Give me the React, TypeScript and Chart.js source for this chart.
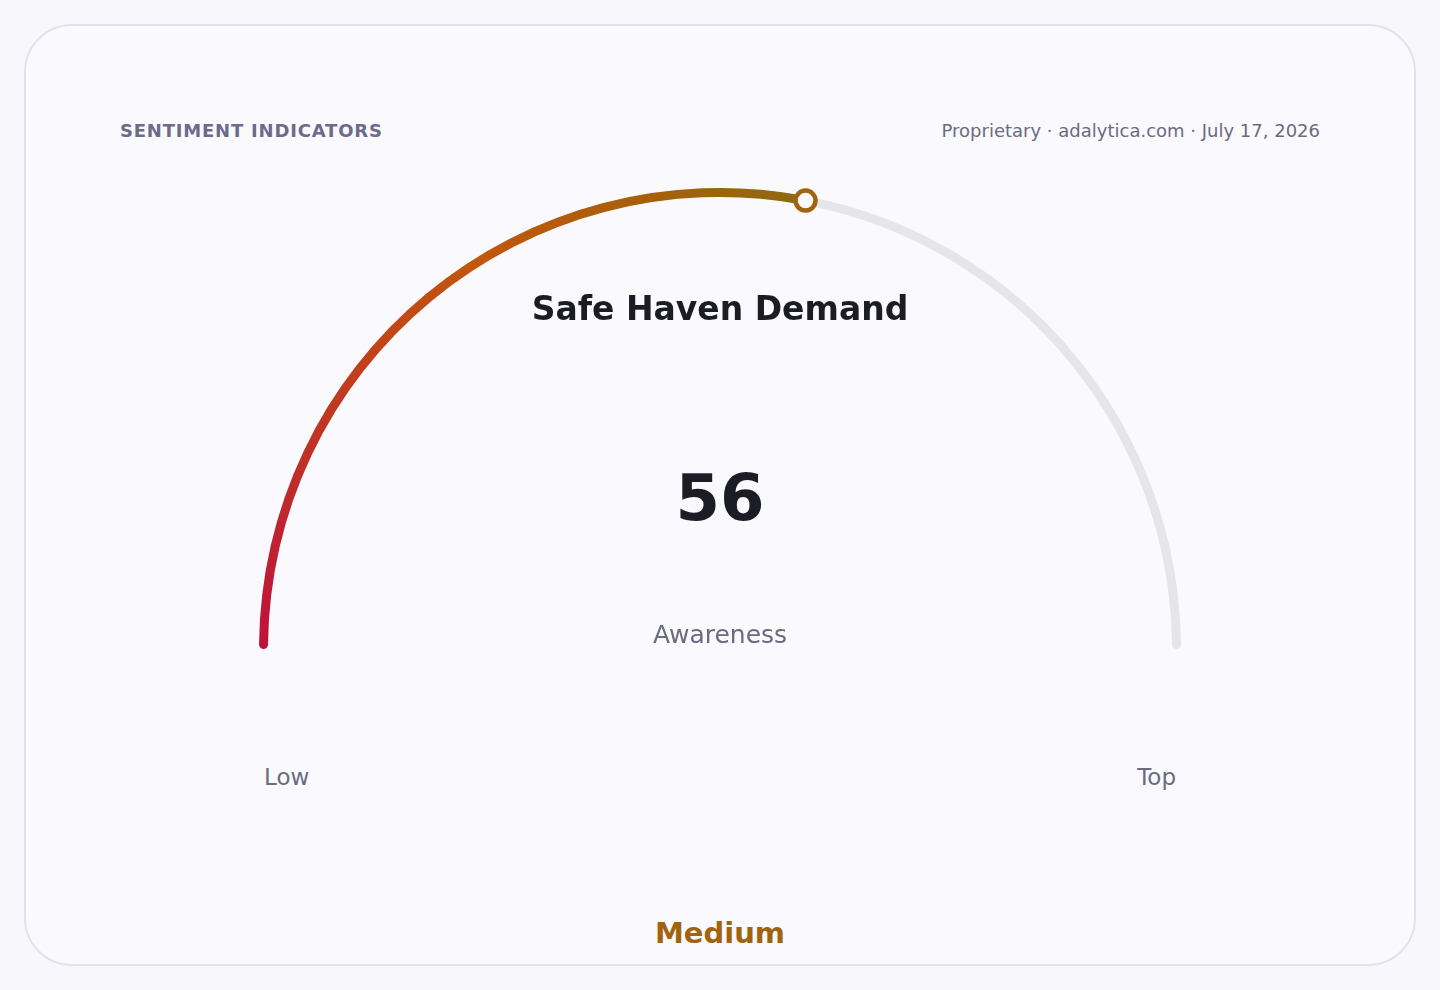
import { useEffect, useRef } from 'react';
import { Chart, ChartConfiguration, registerables } from 'chart.js';

Chart.register(...registerables);

// gauge data
const segmentLabels = ['Awareness', 'Remaining'];
const gaugeValue = 56;
const gaugeMax = 100;
const segmentValues = [gaugeValue, gaugeMax - gaugeValue];
const scaleLabels = ['Low', 'Top'];
const levelLabel = 'Medium';

const FONT = '"DejaVu Sans", Verdana, sans-serif';
const CX = 720;
const CY = 649;
const R = 461;
const THICK = 9;
const PAD = 20;

const markerPlugin = {
  id: 'gaugeMarker',
  afterDatasetsDraw(chart: Chart) {
    const arc: any = chart.getDatasetMeta(0).data[0];
    if (!arc) return;
    const { x, y, endAngle, innerRadius, outerRadius } = arc.getProps(
      ['x', 'y', 'endAngle', 'innerRadius', 'outerRadius'],
      true
    );
    const r = (innerRadius + outerRadius) / 2;
    const ctx = chart.ctx;
    ctx.save();
    ctx.beginPath();
    ctx.arc(x + r * Math.cos(endAngle), y + r * Math.sin(endAngle), 10, 0, Math.PI * 2);
    ctx.fillStyle = '#fafafe';
    ctx.fill();
    ctx.lineWidth = 4.5;
    ctx.strokeStyle = '#a0640f';
    ctx.stroke();
    ctx.restore();
  }
};

function Gauge() {
  const canvasRef = useRef<HTMLCanvasElement>(null);
  const chartRef = useRef<Chart | null>(null);

  useEffect(() => {
    if (!canvasRef.current) return;
    if (chartRef.current) chartRef.current.destroy();

    const config: ChartConfiguration<'doughnut'> = {
      type: 'doughnut',
      data: {
        labels: segmentLabels,
        datasets: [{
          data: segmentValues,
          backgroundColor: (c: any) => {
            if (c.dataIndex === 1) return '#e5e5ea';
            const area = c.chart.chartArea;
            if (!area) return '#b4530a';
            const cx = (area.left + area.right) / 2;
            const g = c.chart.ctx.createConicGradient(Math.PI, cx, area.bottom);
            g.addColorStop(0, '#be123c');
            g.addColorStop(0.16, '#c2570c');
            g.addColorStop(0.23, '#a5600a');
            g.addColorStop(0.28, '#8d6a12');
            g.addColorStop(0.5, '#8d6a12');
            return g;
          },
          borderWidth: 0,
          borderRadius: THICK / 2
        }]
      },
      options: {
        responsive: false,
        animation: false,
        rotation: -90,
        circumference: 180,
        cutout: ((R - THICK) / R) * 100 + '%',
        layout: { padding: PAD },
        plugins: {
          legend: { display: false },
          tooltip: { enabled: false }
        }
      },
      plugins: [markerPlugin]
    };

    chartRef.current = new Chart(canvasRef.current, config);
    return () => {
      if (chartRef.current) {
        chartRef.current.destroy();
        chartRef.current = null;
      }
    };
  }, []);

  return (
    <canvas
      ref={canvasRef}
      width={2 * R + 2 * PAD}
      height={R + 2 * PAD}
      style={{ position: 'absolute', left: CX - R - PAD, top: CY - R - PAD }}
    />
  );
}

export default function App() {
  const muted = '#6b6b80';
  const center = (top: number, extra: any) => ({
    position: 'absolute' as const,
    left: 0,
    width: 1440,
    top,
    textAlign: 'center' as const,
    lineHeight: 1,
    ...extra
  });

  return (
    <div style={{ position: 'fixed', left: 0, top: 0, width: 1440, height: 990, background: '#f8f8fc', fontFamily: FONT }}>
      <div style={{
        position: 'absolute', left: 24, top: 24, width: 1388, height: 938,
        border: '2px solid #e2e2ee', borderRadius: 48, background: '#fafafe'
      }} />
      <Gauge />
      <div style={{ position: 'absolute', left: 120, top: 122, fontSize: 18, fontWeight: 700, letterSpacing: 0.8, color: '#6e6a8a', lineHeight: 1 }}>
        SENTIMENT INDICATORS
      </div>
      <div style={{ position: 'absolute', right: 120, top: 122, fontSize: 18, color: muted, lineHeight: 1 }}>
        Proprietary · adalytica.com · July 17, 2026
      </div>
      <div style={center(292, { fontSize: 33, fontWeight: 700, color: '#1c1c24' })}>Safe Haven Demand</div>
      <div style={center(466, { fontSize: 64, fontWeight: 700, color: '#1c1c24' })}>{gaugeValue}</div>
      <div style={center(622, { fontSize: 25, color: muted })}>{segmentLabels[0]}</div>
      <div style={{ position: 'absolute', left: 264, top: 766, fontSize: 23, color: muted, lineHeight: 1 }}>{scaleLabels[0]}</div>
      <div style={{ position: 'absolute', right: 1440 - 1176, top: 766, fontSize: 23, color: muted, lineHeight: 1 }}>{scaleLabels[1]}</div>
      <div style={center(919, { fontSize: 29, fontWeight: 700, color: '#a0640f' })}>{levelLabel}</div>
    </div>
  );
}
